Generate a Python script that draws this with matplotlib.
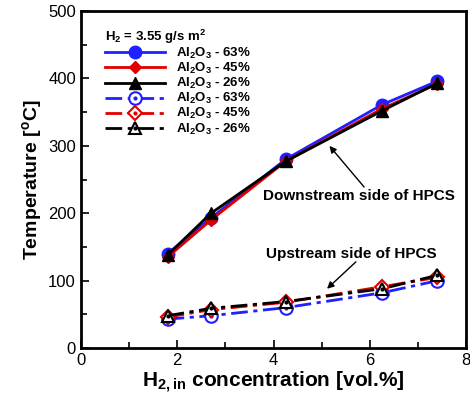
import matplotlib
matplotlib.use('Agg')
import matplotlib.pyplot as plt
from matplotlib.ticker import MultipleLocator
from matplotlib.legend_handler import HandlerTuple

plt.rcParams['font.family'] = ['Liberation Sans', 'DejaVu Sans']
plt.rcParams['mathtext.default'] = 'regular'

# 数据
h2_conc = [1.8, 2.7, 4.25, 6.25, 7.4]
down_63 = [140, 193, 280, 361, 396]
down_45 = [135, 190, 277, 355, 392]
down_26 = [138, 200, 277, 352, 393]
up_63 = [43, 48, 60, 82, 100]
up_45 = [46, 57, 68, 91, 105]
up_26 = [48, 59, 69, 88, 108]
labels = ['Al$_2$O$_3$ - 63%', 'Al$_2$O$_3$ - 45%', 'Al$_2$O$_3$ - 26%']

blue, red, black = '#1f1fff', '#e00000', 'black'
dashdot = (0, (6, 2, 1.5, 2))

fig = plt.figure(figsize=(4.7, 3.96), dpi=100)
ax = fig.add_axes([0.172, 0.121, 0.820, 0.851])

# 下游（实线、实心标记）
h1, = ax.plot(h2_conc, down_63, color=blue, lw=2, marker='o', ms=9)
h2, = ax.plot(h2_conc, down_45, color=red, lw=2, marker='D', ms=6.5)
h3, = ax.plot(h2_conc, down_26, color=black, lw=2, marker='^', ms=8)

# 上游（点划线、空心标记，中心带小点）
handles = [h1, h2, h3]
for y, c, m, ms in [(up_63, blue, 'o', 9), (up_45, red, 'D', 7), (up_26, black, '^', 8.5)]:
    ln, = ax.plot(h2_conc, y, color=c, lw=2, ls=dashdot, marker=m, ms=ms,
                  mfc='white', mew=1.5)
    dot, = ax.plot(h2_conc, y, color=c, ls='none', marker='o', ms=2)
    handles.append((ln, dot))

ax.set_xlim(0, 8)
ax.set_ylim(0, 500)
ax.xaxis.set_major_locator(MultipleLocator(2))
ax.xaxis.set_minor_locator(MultipleLocator(1))
ax.yaxis.set_major_locator(MultipleLocator(100))
ax.yaxis.set_minor_locator(MultipleLocator(50))
ax.tick_params(which='both', direction='in', labelsize=12, width=1.2)
ax.tick_params(which='major', length=6)
ax.tick_params(which='minor', length=4)
for s in ax.spines.values():
    s.set_linewidth(2)

ax.set_xlabel('H$_{2,in}$ concentration [vol.%]', fontsize=15, fontweight='bold', labelpad=1)
ax.set_ylabel('Temperature [$^o$C]', fontsize=14, fontweight='bold', labelpad=3)

leg = ax.legend(handles, labels * 2, loc='upper left', bbox_to_anchor=(0.045, 0.97),
                frameon=False, title='H$_2$ = 3.55 g/s m$^2$', handlelength=4.6,
                handler_map={tuple: HandlerTuple(ndivide=1, pad=0)},
                prop={'weight': 'bold', 'size': 9.5}, labelspacing=0.0,
                borderaxespad=0.2, borderpad=0.3)
leg.get_title().set_fontweight('bold')
leg.get_title().set_fontsize(9.5)
leg._legend_box.align = 'left'

# 注释文字和箭头
ax.text(5.78, 225, 'Downstream side of HPCS', ha='center', va='center',
        fontsize=11, fontweight='bold')
ax.annotate('', xy=(5.16, 300), xytext=(5.88, 239),
            arrowprops=dict(arrowstyle='-|>', color='black', lw=1, mutation_scale=10,
                            shrinkA=0, shrinkB=0))
ax.text(5.61, 139, 'Upstream side of HPCS', ha='center', va='center',
        fontsize=11, fontweight='bold')
ax.annotate('', xy=(5.11, 88), xytext=(5.71, 128),
            arrowprops=dict(arrowstyle='-|>', color='black', lw=1, mutation_scale=10,
                            shrinkA=0, shrinkB=0))

fig.savefig('out.png', dpi=100)
